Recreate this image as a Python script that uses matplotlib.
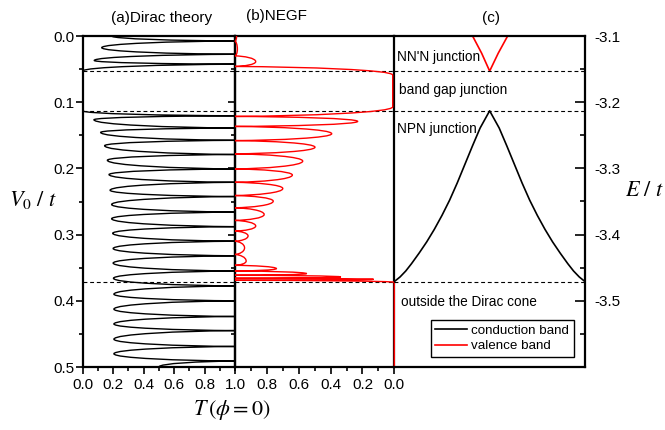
import matplotlib
matplotlib.use("Agg")
import matplotlib.pyplot as plt
from matplotlib.path import Path
from matplotlib.patches import PathPatch
from matplotlib.ticker import MultipleLocator, FixedLocator, FormatStrFormatter

plt.rcParams["font.family"] = ["Liberation Sans", "DejaVu Sans"]
plt.rcParams["mathtext.fontset"] = "stix"
plt.rcParams["axes.unicode_minus"] = False

# (a) Dirac theory: turning points of T(V0) -- resonances (T=1) and minima
dirac_v = [0.000, 0.0075, 0.0176, 0.0276, 0.037, 0.0426, 0.053, 0.113,
           0.1205, 0.1265, 0.139, 0.1456, 0.1576, 0.1657, 0.179, 0.1877,
           0.2008, 0.2093, 0.221, 0.2330, 0.2425, 0.2545, 0.266, 0.276,
           0.288, 0.298, 0.310, 0.321, 0.332, 0.343, 0.355, 0.366,
           0.3775, 0.390, 0.400, 0.4126, 0.4237, 0.435, 0.445, 0.458,
           0.469, 0.480, 0.491, 0.500]
dirac_t = [0.19, 1.0, 0.125, 1.0, 0.076, 1.0, 0.0, 0.0,
           1.0, 0.074, 1.0, 0.118, 1.0, 0.144, 1.0, 0.162,
           1.0, 0.173, 1.0, 0.180, 1.0, 0.190, 1.0, 0.190,
           1.0, 0.197, 1.0, 0.200, 1.0, 0.200, 1.0, 0.202,
           1.0, 0.205, 1.0, 0.205, 1.0, 0.205, 1.0, 0.205,
           1.0, 0.205, 1.0, 0.50]

# (b) NEGF: same kind of turning points
negf_v = [0.000, 0.008, 0.020, 0.030, 0.0387, 0.046, 0.059, 0.107,
          0.1215, 0.129, 0.1366, 0.1476, 0.158, 0.168, 0.178, 0.189,
          0.2008, 0.210, 0.221, 0.2304, 0.241, 0.2495, 0.2595, 0.2696,
          0.2786, 0.287, 0.2947, 0.302, 0.310, 0.320, 0.330, 0.340,
          0.3464, 0.3514, 0.355, 0.359, 0.3614, 0.364, 0.366, 0.3675,
          0.369, 0.372, 0.500]
negf_t = [0.99, 1.0, 0.985, 1.0, 0.87, 1.0, 0.01, 0.01,
          1.0, 0.23, 1.0, 0.393, 1.0, 0.498, 1.0, 0.575,
          1.0, 0.64, 1.0, 0.70, 1.0, 0.76, 1.0, 0.817,
          1.0, 0.87, 1.0, 0.918, 1.0, 0.94, 1.0, 0.93,
          1.0, 0.74, 1.0, 0.55, 1.0, 0.335, 1.0, 0.13,
          1.0, 0.0, 0.0]

# (c) band edges across the Brillouin zone
band_k = [0.00, 0.03, 0.06, 0.09, 0.13, 0.17, 0.21, 0.25, 0.29, 0.33,
          0.37, 0.41, 0.45, 0.50, 0.55, 0.59, 0.63, 0.67, 0.71, 0.75,
          0.79, 0.83, 0.87, 0.91, 0.94, 0.97, 1.00]
cond_e = [-3.471, -3.464, -3.455, -3.444, -3.428, -3.411, -3.392, -3.371,
          -3.348, -3.322, -3.294, -3.266, -3.239, -3.213, -3.239, -3.266,
          -3.294, -3.322, -3.348, -3.371, -3.392, -3.411, -3.428, -3.444,
          -3.455, -3.464, -3.471]
val_k = [0.405, 0.458, 0.500, 0.545, 0.600]
val_e = [-3.097, -3.126, -3.153, -3.126, -3.097]

edges_v = [0.053, 0.113, 0.372]
edges_e = [-3.153, -3.213, -3.472]
regions = ["NN'N junction", "band gap junction", "NPN junction",
           "outside the Dirac cone"]


def resonance_path(t, v):
    """Smooth Bezier path through alternating peaks and minima."""
    verts = [(t[0], v[0])]
    codes = [Path.MOVETO]
    for t0, v0, t1, v1 in zip(t, v, t[1:], v[1:]):
        dv = v1 - v0
        if t0 > t1:
            c1 = (t1 + 0.55 * (t0 - t1), v0 + 0.05 * dv)
            c2 = (t1, v0 + 0.4 * dv)
        elif t0 < t1:
            c1 = (t0, v0 + 0.6 * dv)
            c2 = (t0 + 0.55 * (t1 - t0), v0 + 0.95 * dv)
        else:
            c1 = (t0, v0 + dv / 3)
            c2 = (t1, v0 + 2 * dv / 3)
        verts += [c1, c2, (t1, v1)]
        codes += [Path.CURVE4] * 3
    return Path(verts, codes)


fig = plt.figure(figsize=(6.65, 4.3), dpi=100)
bottom, height = 1 - 367 / 430, 331 / 430
ax_a = fig.add_axes([82.7 / 665, bottom, 152.3 / 665, height])
ax_b = fig.add_axes([235 / 665, bottom, 159.3 / 665, height])
ax_c = fig.add_axes([394.3 / 665, bottom, 190.7 / 665, height])

dash = (0, (3.5, 2.5))
for ax in (ax_a, ax_b, ax_c):
    ax.set_facecolor("none")
    for s in ax.spines.values():
        s.set_linewidth(1.6)
    ax.tick_params(which="both", labelsize=11, width=1.2)
    ax.tick_params(which="major", length=5)
    ax.tick_params(which="minor", length=3)

# (a) Dirac theory
ax_a.add_patch(PathPatch(resonance_path(dirac_t, dirac_v), fc="none",
                         ec="black", lw=1.0))
ax_a.set_xlim(0, 1)
ax_a.set_ylim(0.5, 0)
ax_a.xaxis.set_major_locator(FixedLocator([0.0, 0.2, 0.4, 0.6, 0.8]))
ax_a.xaxis.set_minor_locator(MultipleLocator(0.1))
ax_a.yaxis.set_major_locator(MultipleLocator(0.1))
ax_a.yaxis.set_minor_locator(MultipleLocator(0.05))
ax_a.xaxis.set_major_formatter(FormatStrFormatter("%.1f"))
ax_a.yaxis.set_major_formatter(FormatStrFormatter("%.1f"))
ax_a.tick_params(which="both", direction="out", top=False, right=False)
ax_a.tick_params(axis="y", pad=1)
ax_a.tick_params(axis="x", pad=3)
for v in edges_v:
    ax_a.axhline(v, color="black", lw=0.8, ls=dash)

# (b) NEGF, transmission axis reversed
ax_b.add_patch(PathPatch(resonance_path(negf_t, negf_v), fc="none",
                         ec="red", lw=1.0, clip_on=False, zorder=3))
ax_b.set_xlim(1, 0)
ax_b.set_ylim(0.5, 0)
ax_b.xaxis.set_major_locator(MultipleLocator(0.2))
ax_b.xaxis.set_minor_locator(MultipleLocator(0.1))
ax_b.yaxis.set_major_locator(MultipleLocator(0.1))
ax_b.yaxis.set_minor_locator(MultipleLocator(0.05))
ax_b.xaxis.set_major_formatter(FormatStrFormatter("%.1f"))
ax_b.tick_params(which="both", direction="out", top=False, right=False,
                 labelleft=False)
ax_b.tick_params(axis="x", pad=3)
for v in edges_v:
    ax_b.axhline(v, color="black", lw=0.8, ls=dash)

# (c) band structure, energy on the right
ax_c.plot(band_k, cond_e, color="black", lw=1.2, label="conduction band")
ax_c.plot(val_k, val_e, color="red", lw=1.2, label="valence band")
ax_c.set_xlim(0, 1)
ax_c.set_ylim(-3.6, -3.1)
ax_c.spines["left"].set_visible(False)
ax_c.set_xticks([])
ax_c.yaxis.tick_right()
ax_c.yaxis.set_major_locator(FixedLocator([-3.1, -3.2, -3.3, -3.4, -3.5]))
ax_c.yaxis.set_minor_locator(MultipleLocator(0.05))
ax_c.yaxis.set_major_formatter(FormatStrFormatter("%.1f"))
ax_c.tick_params(which="both", direction="in", left=False, right=True)
ax_c.tick_params(which="major", length=7, pad=7)
ax_c.tick_params(which="minor", length=3.5)
for e in edges_e:
    ax_c.axhline(e, color="black", lw=0.8, ls=dash)

for text, (x, e) in zip(regions, [(0.013, -3.131), (0.026, -3.1815),
                                  (0.012, -3.241), (0.033, -3.502)]):
    ax_c.text(x, e, text, fontsize=9.8, ha="left", va="center")

ax_c.legend(loc="lower right", bbox_to_anchor=(0.942, 0.03), fontsize=9.6,
            frameon=True, fancybox=False, edgecolor="black", framealpha=1,
            handlelength=2.4, borderpad=0.35, labelspacing=0.25,
            handletextpad=0.3, borderaxespad=0)

fig.text(161.7 / 665, 1 - 18 / 430, "(a)Dirac theory", fontsize=11,
         ha="center", va="center")
fig.text(276 / 665, 1 - 16 / 430, "(b)NEGF", fontsize=11,
         ha="center", va="center")
fig.text(491 / 665, 1 - 18 / 430, "(c)", fontsize=11,
         ha="center", va="center")
fig.text(33 / 665, 1 - 200 / 430, r"$V_0\ /\ t$", fontsize=16,
         ha="center", va="center")
fig.text(645 / 665, 1 - 190 / 430, r"$E\ /\ t$", fontsize=16,
         ha="center", va="center")
fig.text(232 / 665, 1 - 410 / 430, r"$T\,\left(\phi=0\right)$", fontsize=16,
         ha="center", va="center")

fig.savefig("out.png", dpi=100)
